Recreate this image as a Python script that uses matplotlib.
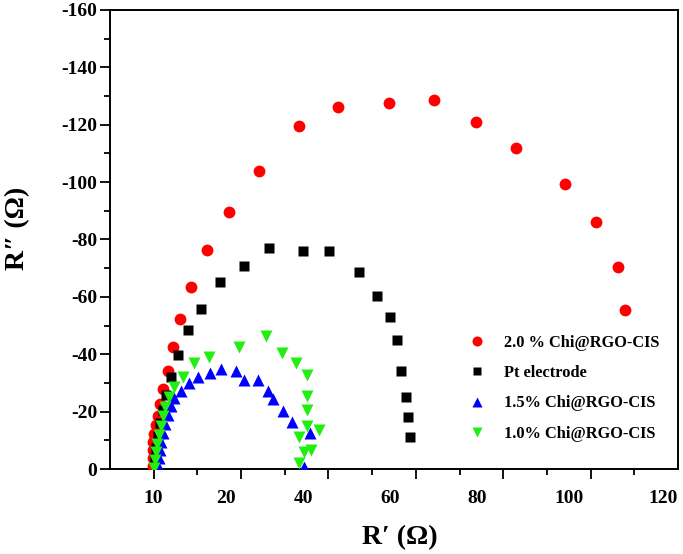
import matplotlib
matplotlib.use("Agg")
import matplotlib.pyplot as plt
from matplotlib.ticker import MultipleLocator, FixedLocator, NullFormatter
import matplotlib.transforms as mtransforms

plt.rcParams['font.family'] = ['Liberation Serif', 'DejaVu Serif']
plt.rcParams['font.weight'] = 'bold'
plt.rcParams['axes.unicode_minus'] = False

# ---- data (R' in ohm, R'' in ohm) ----
red_x = [9.8, 9.8, 9.8, 9.8, 10.0, 10.5, 11.0, 11.4, 12.1, 13.2, 14.4, 16.0, 18.5, 22.1,
         27.2, 34.0, 43.2, 52.3, 63.9, 74.2, 83.8, 92.9, 104.1, 111.2, 116.2, 117.8]
red_y = [-1.1, -3.9, -6.7, -9.5, -12.3, -15.4, -18.6, -22.8, -28.0, -34.3, -42.7, -52.2, -63.4, -76.3,
         -89.6, -104.0, -119.7, -126.1, -127.5, -128.5, -121.1, -112.0, -99.4, -86.1, -70.4, -55.3]

pt_x = [10.3, 10.5, 11.0, 11.4, 12.1, 12.8, 13.9, 15.5, 17.8, 20.8, 25.1, 30.6, 36.5, 44.1,
        50.2, 57.1, 61.0, 64.2, 65.8, 66.7, 67.8, 68.3, 68.7]
pt_y = [-3.9, -7.4, -11.6, -16.1, -20.7, -25.9, -32.2, -39.6, -48.3, -55.7, -65.1, -70.7, -77.0, -76.0,
        -76.0, -68.6, -60.2, -52.9, -44.8, -34.3, -25.2, -18.2, -11.2]

blue_x = [11.0, 11.2, 11.4, 11.6, 12.1, 12.6, 13.2, 13.9, 14.6, 16.2, 18.0, 20.1, 22.8, 25.3,
          28.8, 30.6, 33.8, 36.1, 37.4, 39.5, 41.6, 45.7, 44.3]
blue_y = [-1.1, -3.9, -6.7, -9.5, -12.6, -15.8, -18.9, -22.1, -24.9, -27.3, -30.1, -31.9, -33.6, -35.0,
          -34.0, -31.2, -31.2, -27.3, -24.5, -20.3, -16.5, -12.6, -0.7]

green_x = [10.0, 10.3, 10.5, 10.7, 11.2, 11.6, 12.1, 12.6, 13.5, 14.6, 16.7, 19.2, 22.6, 29.5,
           35.6, 39.3, 42.5, 45.2, 45.2, 45.0, 45.0, 47.9, 43.2, 45.9, 44.3, 43.2]
green_y = [-0.4, -3.2, -6.0, -8.8, -11.9, -15.1, -18.6, -21.7, -25.2, -28.7, -32.2, -37.1, -39.2, -42.4,
           -46.2, -40.6, -37.1, -32.9, -25.6, -20.7, -15.1, -13.7, -11.2, -6.7, -6.0, -2.1]

labels = ["2.0 % Chi@RGO-CIS", "Pt electrode", "1.5% Chi@RGO-CIS", "1.0% Chi@RGO-CIS"]

# x tick labels as printed in the figure (their printed positions, in R' units)
xlabel_text = ["10", "20", "40", "60", "80", "100", "120"]
xlabel_pos = [10.0, 26.5, 44.3, 64.2, 84.0, 105.0, 126.5]
ytick_vals = [0, -20, -40, -60, -80, -100, -120, -140, -160]

fig = plt.figure(figsize=(6.83, 5.54), dpi=100)
ax = fig.add_axes([0.161, 0.1534, 0.8317, 0.8286])

ax.plot(red_x, red_y, 'o', color='#ff0000', ms=8.5, mec='none', label=labels[0], zorder=3)
ax.plot(pt_x, pt_y, 's', color='black', ms=7.2, mec='none', label=labels[1], zorder=4)
ax.plot(blue_x, blue_y, '^', color='#0000ff', ms=9, mec='none', label=labels[2], zorder=5)
ax.plot(green_x, green_y, 'v', color='#22ee11', ms=9, mec='none', label=labels[3], zorder=6)

ax.set_xlim(0, 130)
ax.set_ylim(0, -160)

ax.xaxis.set_major_locator(FixedLocator([10, 30, 50, 70, 90, 110]))
ax.xaxis.set_minor_locator(FixedLocator([20, 40, 60, 80, 100, 120]))
ax.xaxis.set_major_formatter(NullFormatter())
trans = mtransforms.blended_transform_factory(ax.transData, ax.transAxes)
for t, p in zip(xlabel_text, xlabel_pos):
    ax.text(p, -0.045, t, transform=trans, ha='center', va='top',
            fontsize=14, fontweight='bold')

ax.set_yticks(ytick_vals)
ax.set_yticklabels([str(v) for v in ytick_vals])
ax.yaxis.set_minor_locator(MultipleLocator(10))

ax.tick_params(which='major', direction='out', length=7, width=1.3, labelsize=14)
ax.tick_params(which='minor', direction='out', length=4, width=1.3)
ax.tick_params(axis='y', pad=2)
for lab in ax.get_yticklabels():
    lab.set_fontweight('bold')
for s in ax.spines.values():
    s.set_linewidth(1.4)

ax.set_xlabel("R\u2032 (\u03a9)", fontsize=20, fontweight='bold')
ax.xaxis.set_label_coords(0.51, -0.122)
ax.set_ylabel("R\u2033 (\u03a9)", fontsize=20, fontweight='bold')
ax.yaxis.set_label_coords(-0.141, 0.525)

leg = ax.legend(loc='upper left', bbox_to_anchor=(0.632, 0.292), frameon=False,
                prop={'family': ['Liberation Serif', 'DejaVu Serif'], 'weight': 'bold', 'size': 11.8},
                handlelength=1.0, handletextpad=1.15, labelspacing=0.87,
                borderpad=0, borderaxespad=0, markerscale=0.85)

fig.savefig("out.png", dpi=100)
